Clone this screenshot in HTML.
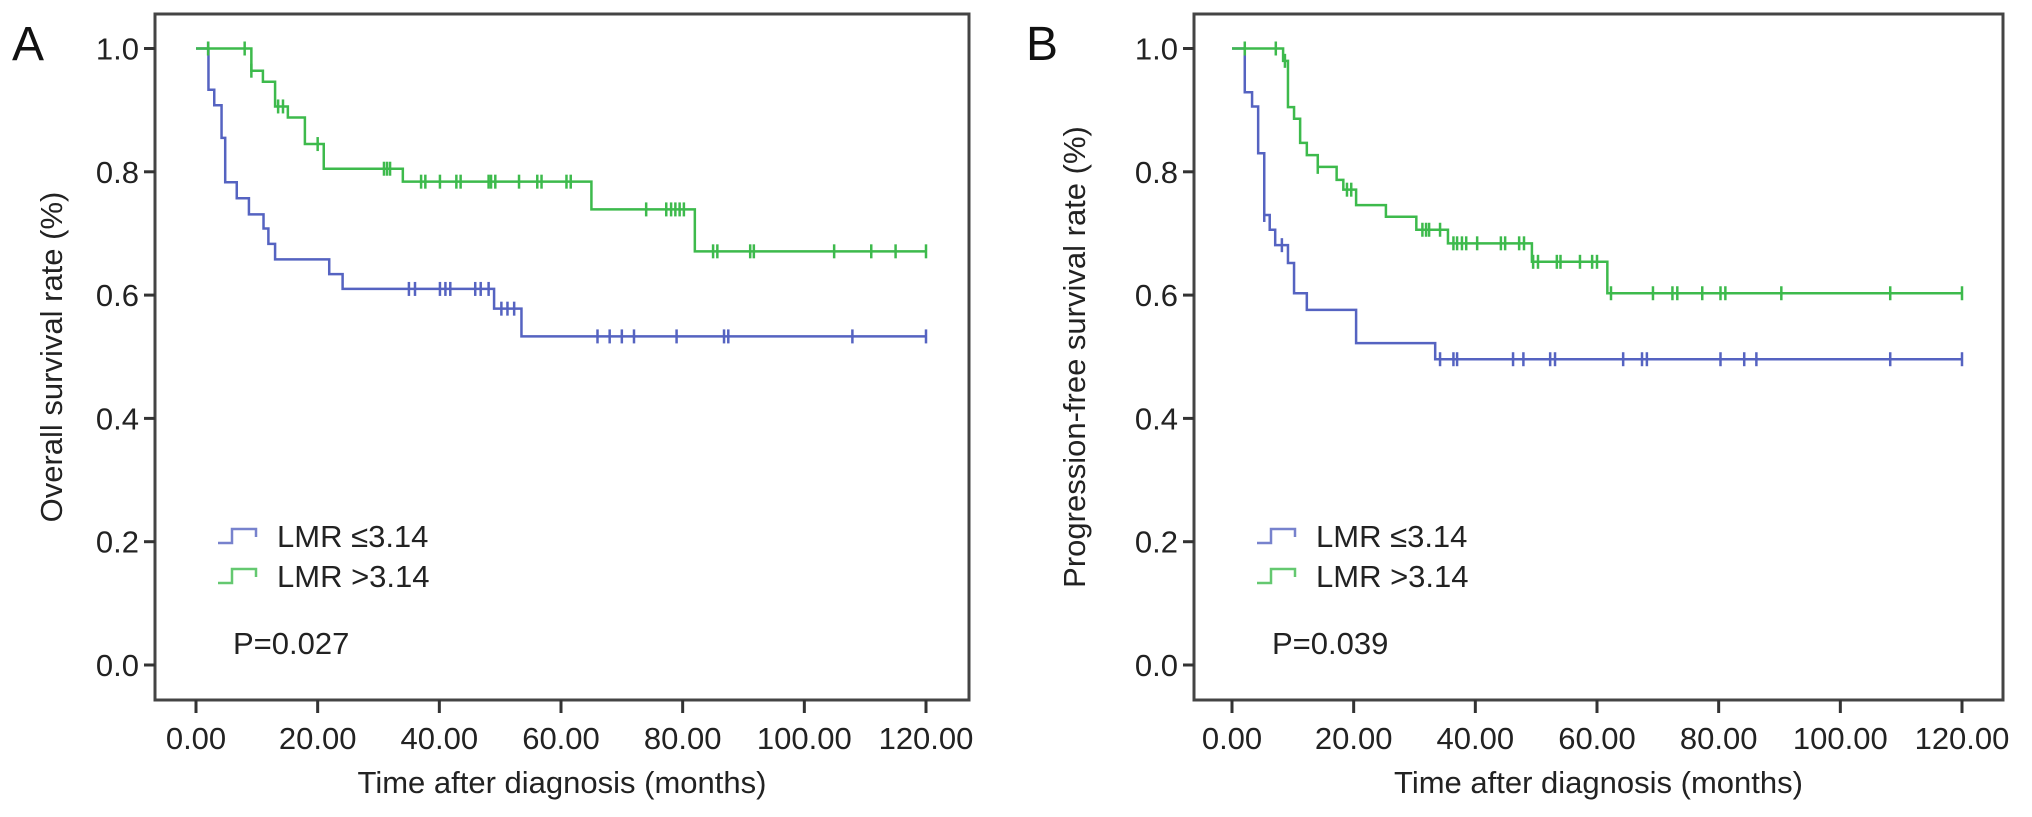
<!DOCTYPE html>
<html><head><meta charset="utf-8">
<style>
html,body{margin:0;padding:0;background:#fff;}
svg{display:block;font-family:"Liberation Sans",Arial,sans-serif;}
</style></head>
<body>
<svg id="chart" width="2032" height="817" viewBox="0 0 2032 817"></svg>
<script>
// ---- Panel A: overall survival ----
const aBlueStepT = [0, 2.05, 3, 4.2, 4.8, 6.7, 8.7, 11.1, 11.9, 13, 21.9, 24.1, 49, 53.5];
const aBlueStepV = [1, 0.933, 0.908, 0.855, 0.783, 0.757, 0.731, 0.708, 0.683, 0.658, 0.634, 0.61, 0.578, 0.533];
const aBlueCens = [2, 35, 36, 40.1, 41, 41.8, 45.9, 46.8, 48.1, 50.2, 51.2, 52.3, 66, 68, 70, 72, 79, 86.8, 87.5, 107.9, 120];
const aGreenStepT = [0, 9.1, 11, 13, 15.1, 17.9, 21, 34, 65, 82];
const aGreenStepV = [1, 0.964, 0.946, 0.906, 0.888, 0.845, 0.805, 0.784, 0.739, 0.671];
const aGreenCens = [2, 8, 9.1, 13.5, 14.3, 20, 30.9, 31.4, 31.9, 37, 37.7, 40.1, 42.8, 43.5, 48.1, 48.5, 49.2, 53.1, 56.1, 56.8, 60.9, 61.6, 74, 77.3, 78.1, 78.8, 79.5, 80.2, 85, 85.7, 91.1, 91.7, 104.9, 111, 115, 120];
// ---- Panel B: progression-free survival ----
const bBlueStepT = [0, 2.1, 3.3, 4.3, 5.3, 6.2, 7.1, 9.2, 10.2, 12.3, 20.4, 33.4];
const bBlueStepV = [1, 0.929, 0.906, 0.83, 0.73, 0.706, 0.681, 0.652, 0.603, 0.576, 0.522, 0.496];
const bBlueCens = [5.3, 8.2, 34.2, 36.4, 37, 46.2, 47.9, 52.3, 53.1, 64.3, 67.4, 68.2, 80.3, 84.2, 86.2, 108.2, 120];
const bGreenStepT = [0, 8.4, 9.2, 10.2, 11.2, 12.3, 14.1, 17.2, 18.3, 20.4, 25.3, 30.3, 35.5, 49.3, 61.7];
const bGreenStepV = [1, 0.98, 0.905, 0.886, 0.847, 0.827, 0.808, 0.787, 0.771, 0.746, 0.727, 0.706, 0.684, 0.654, 0.603];
const bGreenCens = [2.1, 7.2, 8.7, 14.1, 18.9, 19.6, 31.3, 31.9, 32.4, 34.2, 36.4, 37, 37.8, 38.5, 40.3, 44.2, 44.9, 47.2, 48, 49.5, 50.3, 53.4, 54, 57.2, 59.2, 60, 62.3, 69.2, 72.4, 73.2, 77.3, 80.3, 81.1, 90.3, 108.2, 120];
const xTicks = [0, 20, 40, 60, 80, 100, 120];
const xTickLabels = ["0.00", "20.00", "40.00", "60.00", "80.00", "100.00", "120.00"];
const yTicks = [0, 0.2, 0.4, 0.6, 0.8, 1.0];
const yTickLabels = ["0.0", "0.2", "0.4", "0.6", "0.8", "1.0"];

const NS = "http://www.w3.org/2000/svg";
const svg = document.getElementById("chart");
const BLUE = "#5563c1", GREEN = "#3dba4c", AX = "#333";
function mk(tag, attrs, parent){
  const e = document.createElementNS(NS, tag);
  for (const k in attrs) e.setAttribute(k, attrs[k]);
  (parent || svg).appendChild(e);
  return e;
}
function stepVal(T, V, t){ let v = V[0]; for (let i=0;i<T.length;i++){ if (T[i] <= t) v = V[i]; } return v; }

function panel(p){
  const g = mk("g", {});
  
  
  const X = t => p.x0 + t * (p.x120 - p.x0) / 120;
  const Y = v => 665 - v * 616.5;
  const box = mk("rect", {x:p.left, y:14, width:p.right-p.left, height:700-14, fill:"none", stroke:"#444", "stroke-width":3}, g);
  
  
  // y ticks
  yTicks.forEach((v,i)=>{
    const tk = mk("line", {x1:p.left-11, x2:p.left, y1:Y(v), y2:Y(v), stroke:AX, "stroke-width":3}, g);
    
    
    const tl = mk("text", {x:p.left-16, y:Y(v)+11, "text-anchor":"end", "font-size":31, fill:"#222"}, g);
    tl.textContent = yTickLabels[i];
    
    
  });
  xTicks.forEach((t,i)=>{
    const tk = mk("line", {x1:X(t), x2:X(t), y1:700, y2:713, stroke:AX, "stroke-width":3}, g);
    
    
    const tl = mk("text", {x:X(t), y:749, "text-anchor":"middle", "font-size":31, fill:"#222"}, g);
    tl.textContent = xTickLabels[i];
    
    
  });
  const xt = mk("text", {x:(p.left+p.right)/2, y:793, "text-anchor":"middle", "font-size":31, fill:"#222"}, g);
  xt.textContent = "Time after diagnosis (months)";
  
  
  const yt = mk("text", {x:0, y:0, "text-anchor":"middle", "font-size":31, fill:"#222", transform:`translate(${p.ytx},357) rotate(-90)`}, g);
  yt.textContent = p.ytitle;
  
  
  const lt = mk("text", {x:p.letterX, y:60, "font-size":48, fill:"#111"}, g);
  lt.textContent = p.letter;
  
  
  // curves
  p.series.forEach(s=>{
    let d = `M${X(0)},${Y(s.V[0])}`;
    for (let i=1;i<s.T.length;i++){ d += ` H${X(s.T[i])} V${Y(s.V[i])}`; }
    d += ` H${X(120)}`;
    const path = mk("path", {d:d, fill:"none", stroke:s.color, "stroke-width":2.5}, g);
    
    
    s.C.forEach(c=>{
      const cy = Y(stepVal(s.T, s.V, c));
      const m = mk("line", {x1:X(c), x2:X(c), y1:cy-7, y2:cy+7, stroke:s.color, "stroke-width":2.5}, g);
      
      
    });
  });
  // legend
  const lx = p.left + 63;
  [[BLUE,"LMR \u22643.14",535],[GREEN,"LMR >3.14",575]].forEach(([col,label,ly])=>{
    const ic = mk("path", {d:`M${lx},${ly+8} H${lx+14} V${ly-6} H${lx+38} V${ly+2}`, fill:"none", stroke:col, "stroke-width":2.5, opacity:0.8}, g);
    
    
    const tx = mk("text", {x:lx+59, y:ly+12, "font-size":31, fill:"#222"}, g);
    tx.textContent = label;
    
    
  });
  const pv = mk("text", {x:p.left+78, y:654, "font-size":31, fill:"#222"}, g);
  pv.textContent = p.pval;
  
  
}

panel({id:"a", letter:"A", letterX:12, left:155, right:969, x0:196, x120:926, ytx:62,
  ytitle:"Overall survival rate (%)", pval:"P=0.027",
  series:[{name:"lmr-low", color:BLUE, T:aBlueStepT, V:aBlueStepV, C:aBlueCens},
          {name:"lmr-high", color:GREEN, T:aGreenStepT, V:aGreenStepV, C:aGreenCens}]});
panel({id:"b", letter:"B", letterX:1026, left:1194, right:2003, x0:1232, x120:1962, ytx:1085,
  ytitle:"Progression-free survival rate (%)", pval:"P=0.039",
  series:[{name:"lmr-low", color:BLUE, T:bBlueStepT, V:bBlueStepV, C:bBlueCens},
          {name:"lmr-high", color:GREEN, T:bGreenStepT, V:bGreenStepV, C:bGreenCens}]});
</script>
</body></html>
